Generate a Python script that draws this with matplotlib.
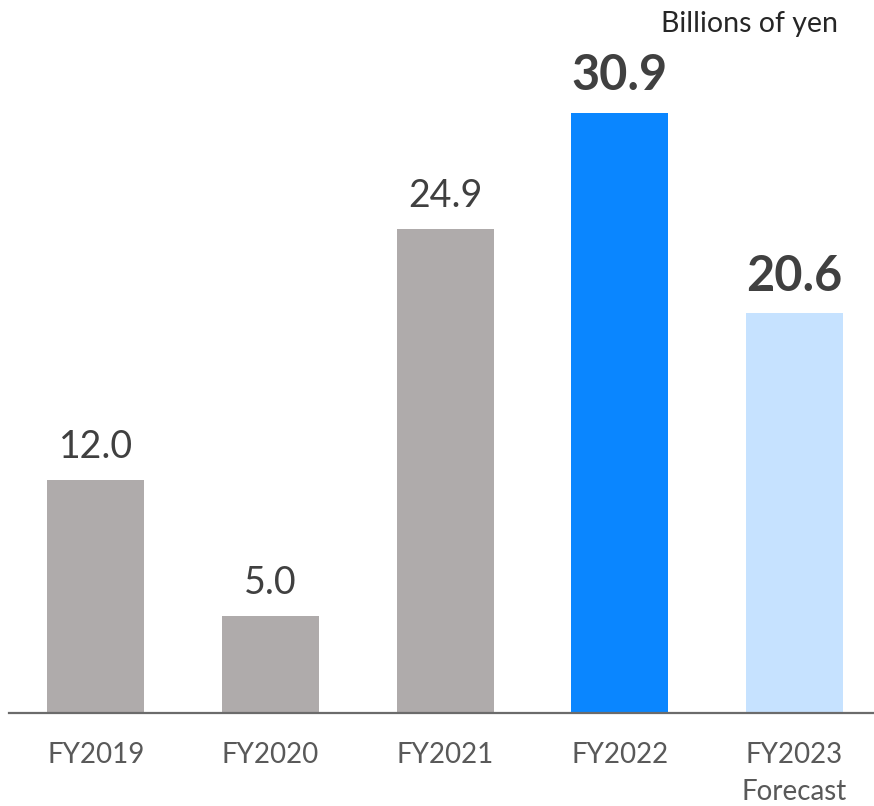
import matplotlib
matplotlib.use("Agg")
import matplotlib.pyplot as plt

categories = ["FY2019", "FY2020", "FY2021", "FY2022", "FY2023\nForecast"]
values = [12.0, 5.0, 24.9, 30.9, 20.6]
labels = ["12.0", "5.0", "24.9", "30.9", "20.6"]
bold = [False, False, False, True, True]
colors = ["#AFABAB", "#AFABAB", "#AFABAB", "#0A86FF", "#C6E2FF"]
unit = "Billions of yen"

plt.rcParams['font.family'] = ['Lato', 'DejaVu Sans']

fig = plt.figure(figsize=(8.74, 8.06), dpi=100)
ax = fig.add_axes([9/874, 93/806, 865/874, 713/806])
x = list(range(len(values)))
ax.bar(x, values, width=0.556, color=colors)
ax.set_xlim(-0.498, 4.456)
ax.set_ylim(0, 36.7)

for xi, v, lab, b in zip(x, values, labels, bold):
    ax.annotate(lab, (xi, v), xytext=(0, 16), textcoords="offset points",
                ha="center", va="baseline",
                fontsize=35 if b else 27,
                fontweight="bold" if b else "normal",
                color="#404040")

for s in ["top", "right", "left"]:
    ax.spines[s].set_visible(False)
ax.spines["bottom"].set_color("#6B6B6B")
ax.spines["bottom"].set_linewidth(1.6)
ax.set_yticks([])
ax.set_xticks(x)
ax.set_xticklabels(categories, fontsize=20, color="#595959", linespacing=1.5)
ax.tick_params(axis="x", length=0, pad=21)

fig.text(838/874, 1 - 32/806, unit, ha="right", va="baseline", fontsize=20.5, color="#262626")

fig.savefig("out.png", dpi=100)
